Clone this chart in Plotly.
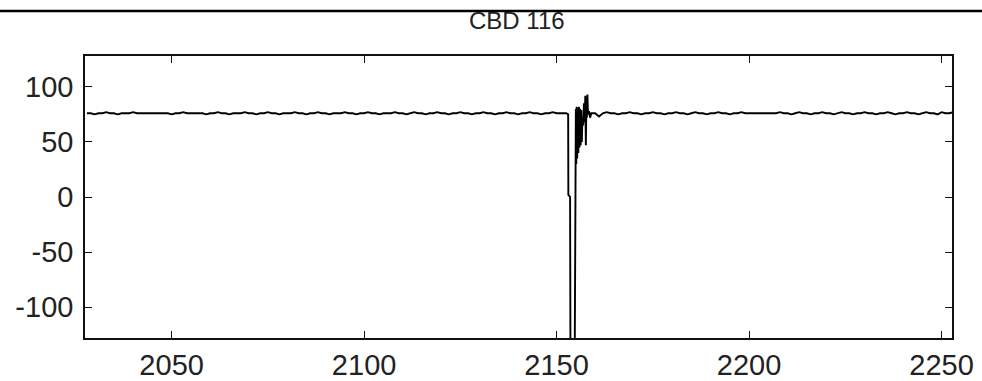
import plotly.graph_objects as go

# ---- data ----
title_text = "CBD 116"
pre_start = 2028
pre_vals = [76,76,75,76,76,77,76,76,75,76,
            76,76,77,76,76,76,76,76,76,76,
            76,76,75,76,76,77,76,76,76,76,
            76,75,76,76,77,76,76,75,76,76,
            76,77,76,76,75,76,76,77,76,76,
            75,76,76,76,77,76,76,75,76,76,
            77,76,76,75,76,76,76,77,76,76,
            75,76,76,77,76,76,75,76,76,76,
            77,76,76,75,76,77,76,76,75,76,
            76,77,76,76,75,76,76,77,76,76,
            75,76,76,77,76,76,75,76,76,77,
            76,76,75,76,76,77,76,76,75,76,
            76,77,76,76,76]
spike_x = [2152.5, 2153.0, 2153.05, 2153.5, 2153.6, 2154.7, 2154.8, 2154.9, 2155.0,
           2155.1, 2155.2, 2155.35, 2155.5, 2155.65, 2155.8, 2155.95, 2156.1, 2156.25,
           2156.4, 2156.55, 2156.7, 2156.9, 2157.1, 2157.3, 2157.45, 2157.6, 2157.75,
           2157.85, 2158.0, 2158.15, 2158.4, 2158.7, 2159.0]
spike_y = [76, 75, 2, 0, -150, -150, 31, 25, 80,
           30, 82, 35, 81, 40, 82, 45, 80, 47,
           79, 50, 72, 65, 85, 68, 92, 47, 90,
           72, 93, 75, 78, 72, 76]
post_start = 2160
post_vals = [76,73,76,77,76,76,75,76,76,77,
             76,76,75,76,76,77,76,76,75,76,
             76,77,76,76,75,76,77,76,76,75,
             76,76,77,76,76,75,76,76,77,76,
             76,76,76,76,76,76,76,76,77,76,
             76,75,76,77,76,76,75,76,76,77,
             76,76,75,76,77,76,76,75,76,76,
             77,76,76,75,76,76,77,76,75,76,
             76,77,76,76,75,76,77,76,76,75,
             77,76,76,77]
x_ticks = [2050, 2100, 2150, 2200, 2250]
y_ticks = [-100, -50, 0, 50, 100]
x_range = [2027.5, 2252.7]
y_range = [-128, 128]

xs = [pre_start + i for i in range(len(pre_vals))] + spike_x + [post_start + i for i in range(len(post_vals))]
ys = pre_vals + spike_y + post_vals

W, H = 982, 381
ml, mr, mt, mb = 85, 30, 56, 43
pw, ph = W - ml - mr, H - mt - mb

fig = go.Figure()
fig.add_trace(go.Scatter(x=xs, y=ys, mode="lines",
                         line=dict(color="black", width=1.9), hoverinfo="skip"))

tickfont = dict(family="Liberation Sans, Arial", size=29, color="#222")
axis_common = dict(showgrid=False, zeroline=False, showline=True, linecolor="#111", linewidth=1.6,
                   mirror="ticks", ticks="inside", ticklen=7, tickwidth=1.4, tickcolor="#111",
                   tickfont=tickfont, automargin=False)
fig.update_xaxes(range=x_range, tickvals=x_ticks, ticktext=[str(v) for v in x_ticks], **axis_common)
fig.update_yaxes(range=y_range, tickvals=y_ticks, ticktext=[str(v) for v in y_ticks],
                 ticklabelstandoff=4, **axis_common)

fig.update_layout(width=W, height=H, margin=dict(l=ml, r=mr, t=mt, b=mb, pad=0, autoexpand=False),
                  paper_bgcolor="white", plot_bgcolor="white", showlegend=False)

# top horizontal rule
y_rule = (H - mb - 11) / ph
fig.add_shape(type="line", xref="paper", yref="paper",
              x0=-ml / pw, x1=(W - ml) / pw, y0=y_rule, y1=y_rule,
              line=dict(color="black", width=2.5))
# title
fig.add_annotation(text=title_text, xref="paper", yref="paper",
                   x=(517 - ml) / pw, y=(H - mb - 20.5) / ph, xanchor="center", yanchor="middle",
                   showarrow=False,
                   font=dict(family="Liberation Sans, Arial", size=24, color="#222"))

fig.write_html("out.html", config={"displayModeBar": False},
               post_script="document.body.style.margin='0';")
